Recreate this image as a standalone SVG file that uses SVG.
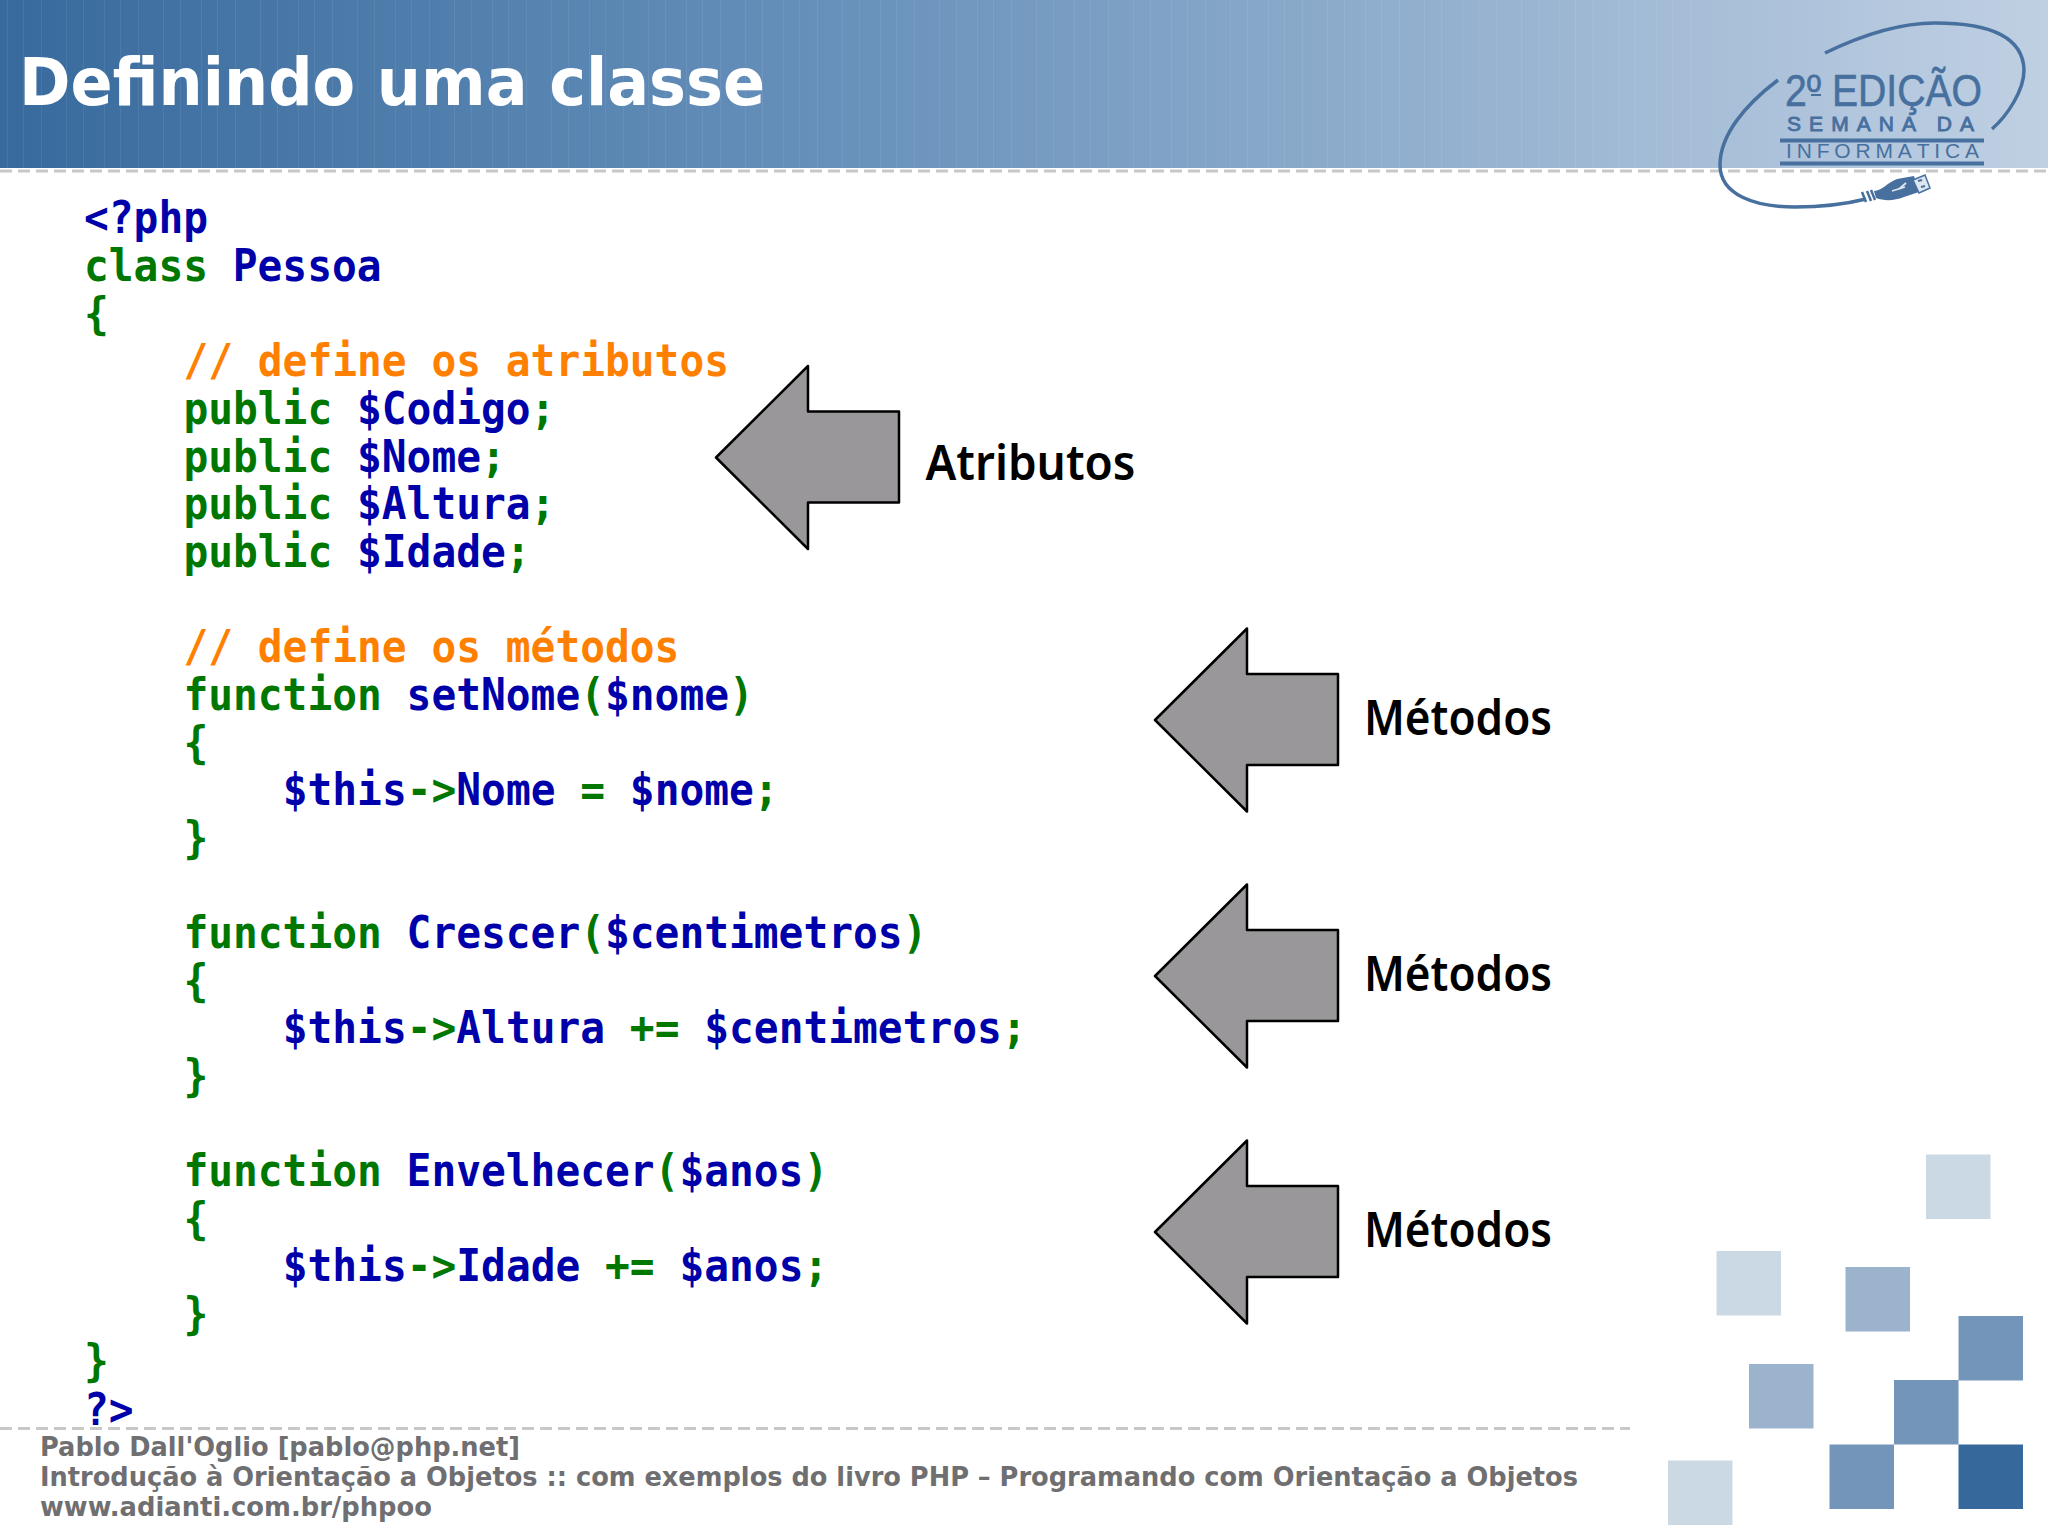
<svg xmlns="http://www.w3.org/2000/svg" width="2048" height="1535" viewBox="0 0 2048 1535">
<defs>
<linearGradient id="hg" x1="0" y1="0" x2="1" y2="0"><stop offset="0" stop-color="#386a9d"/><stop offset="0.4" stop-color="#6690ba"/><stop offset="1" stop-color="#c0d0e3"/></linearGradient>
<pattern id="streaks" width="97" height="168" patternUnits="userSpaceOnUse"><path d="M7.500 0V168M23.500 0V168M41.500 0V168M66.500 0V168M83.500 0V168" stroke="#fff" stroke-opacity=".07" fill="none"/></pattern>
<polygon id="arrow" points="716,457.500 808,366 808,411.500 899,411.500 899,502.500 808,502.500 808,549"/>
</defs>
<style>
.c{font-family:"DejaVu Sans Mono",monospace;font-weight:700;font-size:44px;white-space:pre}
.b{fill:#0000aa}.g{fill:#007700}.o{fill:#ff8000}
.f{font-family:"DejaVu Sans",sans-serif;font-weight:700;font-size:27px;fill:#6f6f72}
.l{font-family:"Noto Sans",sans-serif;font-weight:600;font-size:48px;fill:#000}
.a{fill:#999799;stroke:#000;stroke-width:2.500;stroke-linejoin:round}
.d{stroke:#c8c8c8;stroke-width:3;stroke-dasharray:12 6;fill:none}
.lg{font-family:"Liberation Sans",sans-serif;fill:#47709f}
</style>
<rect width="2048" height="1535" fill="#fff"/>
<rect id="header" width="2048" height="168" fill="url(#hg)"/>
<rect width="1700" height="168" fill="url(#streaks)"/>
<path class="d" d="M0 171H2048M0 1428.500H1630"/>
<text x="19" y="105" font-family="DejaVu Sans" font-weight="700" font-size="66" fill="#fff" textLength="746" lengthAdjust="spacingAndGlyphs">Definindo uma classe</text>
<g id="logo">
<path d="M1825 53C1860 36 1900 23 1935 23C1985 23 2023 35 2024 70C2024 90 2008 115 1992 129" fill="none" stroke="#47709f" stroke-width="3.500"/>
<path d="M1778 80C1745 105 1720 135 1720 165C1720 195 1755 207 1795 207C1825 207 1850 203 1866 199" fill="none" stroke="#47709f" stroke-width="3.500"/>
<path d="M1862 192L1866 202M1867 191L1871 201M1871 190L1875 200" stroke="#47709f" stroke-width="2.500" fill="none"/>
<path d="M1874 191C1882 191 1888 182 1897 179L1914 176L1919 192L1904 197C1894 201 1884 201 1876 198Z" fill="#47709f"/>
<path d="M1892 191L1905 187M1899 189L1906 183" stroke="#dde6f0" stroke-width="1.800" fill="none"/>
<path d="M1913 180L1925 175L1930 188L1919 193Z" fill="#dde6f0" stroke="#47709f" stroke-width="1.500"/>
<path d="M1918 181L1922 180M1921 187L1925 186" stroke="#47709f" stroke-width="2" fill="none"/>
<text class="lg" x="1785" y="106" font-size="45" textLength="197" lengthAdjust="spacingAndGlyphs" stroke="#47709f" stroke-width=".6">2º EDIÇÃO</text>
<rect x="1811" y="94" width="10" height="2" fill="#47709f"/>
<text class="lg" x="1787" y="131" font-size="21" textLength="187" stroke="#47709f" stroke-width=".9">SEMANA DA</text>
<rect x="1780" y="138.500" width="204" height="4" fill="#47709f"/>
<text class="lg" x="1786" y="158" font-size="21" textLength="193">INFORMÁTICA</text>
<rect x="1780" y="161.500" width="204" height="4" fill="#47709f"/>
</g>
<g id="code" transform="scale(.9364,1)">
<text class="c b" x="89.700" y="233">&lt;?php</text>
<text class="c" x="89.700" y="281.500"><tspan class="g">class </tspan><tspan class="b">Pessoa</tspan></text>
<text class="c g" x="89.700" y="329">{</text>
<text class="c o" x="195.900" y="376.500">// define os atributos</text>
<text class="c" x="195.900" y="424.500"><tspan class="g">public </tspan><tspan class="b">$Codigo</tspan><tspan class="g">;</tspan></text>
<text class="c" x="195.900" y="472.500"><tspan class="g">public </tspan><tspan class="b">$Nome</tspan><tspan class="g">;</tspan></text>
<text class="c" x="195.900" y="519.500"><tspan class="g">public </tspan><tspan class="b">$Altura</tspan><tspan class="g">;</tspan></text>
<text class="c" x="195.900" y="567.500"><tspan class="g">public </tspan><tspan class="b">$Idade</tspan><tspan class="g">;</tspan></text>
<text class="c o" x="195.900" y="662.500">// define os métodos</text>
<text class="c" x="195.900" y="710.500"><tspan class="g">function </tspan><tspan class="b">setNome</tspan><tspan class="g">(</tspan><tspan class="b">$nome</tspan><tspan class="g">)</tspan></text>
<text class="c g" x="195.900" y="758.500">{</text>
<text class="c" x="301.900" y="805.500"><tspan class="b">$this</tspan><tspan class="g">-&gt;</tspan><tspan class="b">Nome </tspan><tspan class="g">= </tspan><tspan class="b">$nome</tspan><tspan class="g">;</tspan></text>
<text class="c g" x="195.900" y="853.500">}</text>
<text class="c" x="195.900" y="948.500"><tspan class="g">function </tspan><tspan class="b">Crescer</tspan><tspan class="g">(</tspan><tspan class="b">$centimetros</tspan><tspan class="g">)</tspan></text>
<text class="c g" x="195.900" y="996.500">{</text>
<text class="c" x="301.900" y="1043.500"><tspan class="b">$this</tspan><tspan class="g">-&gt;</tspan><tspan class="b">Altura </tspan><tspan class="g">+= </tspan><tspan class="b">$centimetros</tspan><tspan class="g">;</tspan></text>
<text class="c g" x="195.900" y="1091.500">}</text>
<text class="c" x="195.900" y="1186.500"><tspan class="g">function </tspan><tspan class="b">Envelhecer</tspan><tspan class="g">(</tspan><tspan class="b">$anos</tspan><tspan class="g">)</tspan></text>
<text class="c g" x="195.900" y="1234.500">{</text>
<text class="c" x="301.900" y="1281.500"><tspan class="b">$this</tspan><tspan class="g">-&gt;</tspan><tspan class="b">Idade </tspan><tspan class="g">+= </tspan><tspan class="b">$anos</tspan><tspan class="g">;</tspan></text>
<text class="c g" x="195.900" y="1329.500">}</text>
<text class="c g" x="89.700" y="1376.500">}</text>
<text class="c b" x="89.700" y="1425">?&gt;</text>
</g>
<g id="arrow-atributos"><use href="#arrow" class="a"/><text class="l" x="925.500" y="480" textLength="210" lengthAdjust="spacingAndGlyphs">Atributos</text></g>
<g id="arrow-metodos-1"><use href="#arrow" class="a" transform="translate(439,262.500)"/><text class="l" x="1364" y="735" textLength="188" lengthAdjust="spacingAndGlyphs">Métodos</text></g>
<g id="arrow-metodos-2"><use href="#arrow" class="a" transform="translate(439,518.500)"/><text class="l" x="1364" y="991" textLength="188" lengthAdjust="spacingAndGlyphs">Métodos</text></g>
<g id="arrow-metodos-3"><use href="#arrow" class="a" transform="translate(439,774.500)"/><text class="l" x="1364" y="1247" textLength="188" lengthAdjust="spacingAndGlyphs">Métodos</text></g>
<g id="footer">
<text class="f" x="40" y="1456" textLength="480" lengthAdjust="spacingAndGlyphs">Pablo Dall'Oglio [pablo@php.net]</text>
<text class="f" x="40" y="1486" textLength="1538" lengthAdjust="spacingAndGlyphs">Introdução à Orientação a Objetos :: com exemplos do livro PHP – Programando com Orientação a Objetos</text>
<text class="f" x="40" y="1516" textLength="392" lengthAdjust="spacingAndGlyphs">www.adianti.com.br/phpoo</text>
</g>
<g id="squares">
<rect x="1926" y="1154.500" width="64.500" height="64.500" fill="#cbd9e5"/>
<rect x="1716.500" y="1251" width="64.500" height="64.500" fill="#cbd9e5"/>
<rect x="1845.500" y="1267" width="64.500" height="64.500" fill="#9bb3cd"/>
<rect x="1958.500" y="1316" width="64.500" height="64.500" fill="#7295b9"/>
<rect x="1749" y="1364" width="64.500" height="64.500" fill="#9bb3cd"/>
<rect x="1894" y="1380" width="64.500" height="64.500" fill="#7295b9"/>
<rect x="1829.500" y="1444.500" width="64.500" height="64.500" fill="#7295b9"/>
<rect x="1958.500" y="1444.500" width="64.500" height="64.500" fill="#36689b"/>
<rect x="1668" y="1460.500" width="64.500" height="64.500" fill="#cbd9e5"/>
</g>
</svg>
